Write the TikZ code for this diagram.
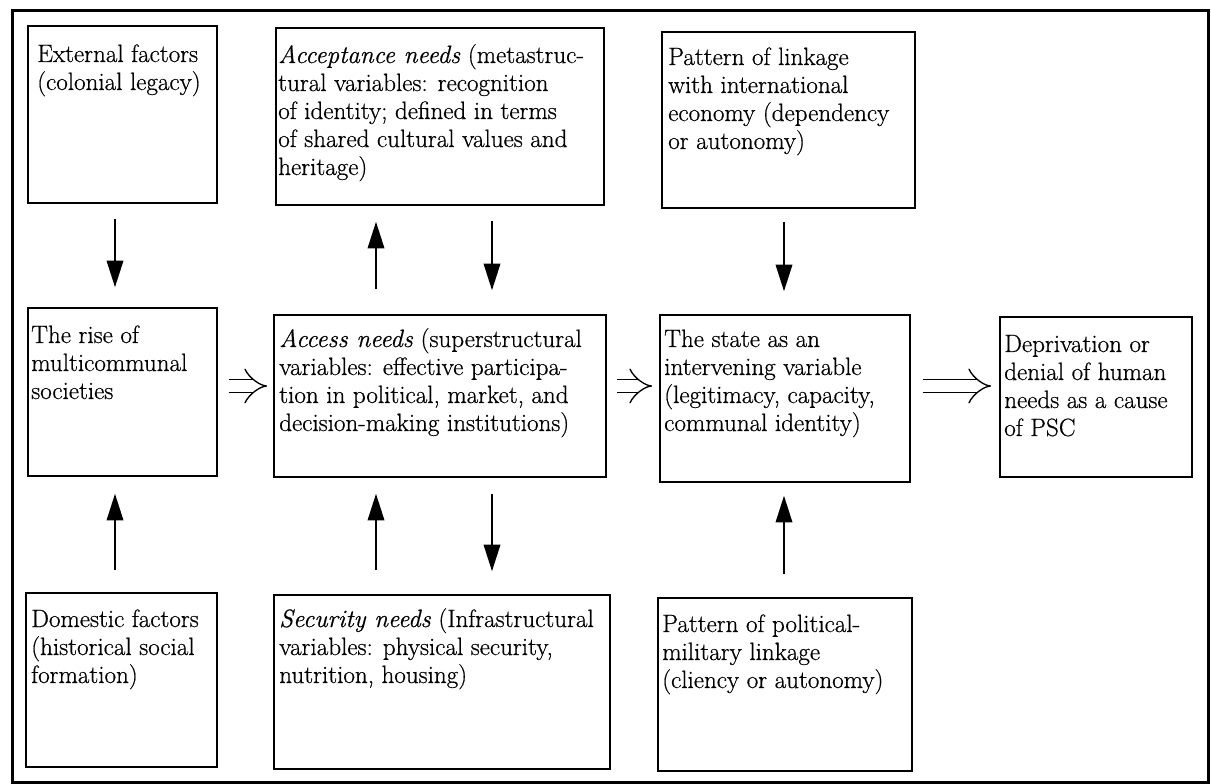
\documentclass[tikz,border=0pt]{standalone}
\usepackage{fontspec}
\setmainfont{Latin Modern Roman}[
  UprightFeatures={FakeBold=0.6},
  ItalicFeatures={FakeBold=0.6}]
\usetikzlibrary{arrows.meta,fit}

% multi-line label whose baseline is that of its first line
\newcommand\boxtext[1]{\begin{tabular}[t]{@{}l@{}}#1\end{tabular}}

\begin{document}
\begin{tikzpicture}[x=0.75pt,y=-0.75pt,
  panel/.style={draw, line width=1.2pt, inner sep=0pt},
  txt/.style={anchor=base west, inner sep=0pt, font=\fontsize{18.8}{21}\selectfont},
  varr/.style={line width=1.2pt, -{Triangle[length=20pt,width=12.5pt]}},
  dblarr/.style={double, double distance=8.5pt, line width=1pt,
                 -{Implies[length=10pt,width=21pt]}}
]
\useasboundingbox (0,0) rectangle (1211,784);

% outer frame
\draw[line width=2.25pt] (12,11) rectangle (1208,782);

% boxes
\node[panel, fit={(28,26) (217,203)}]   (ext)    {};
\node[panel, fit={(276,28) (604,205)}]  (accept) {};
\node[panel, fit={(662,32) (915,208)}]  (pat)    {};
\node[panel, fit={(28,308) (217,476)}]  (rise)   {};
\node[panel, fit={(274,315) (606,477)}] (access) {};
\node[panel, fit={(660,315) (910,482)}] (state)  {};
\node[panel, fit={(1000,317) (1192,477)}] (depr) {};
\node[panel, fit={(26,593) (217,767)}]  (dom)    {};
\node[panel, fit={(274,595) (610,769)}] (sec)    {};
\node[panel, fit={(658,598) (912,771)}] (pol)    {};

% box texts
\node[txt] (extT) at (37,62) {\boxtext{External factors\\(colonial legacy)}};
\node[txt] (acceptT) at (278,63) {\boxtext{\textit{Acceptance needs} (metastruc-\\tural variables: recognition\\of identity; defined in terms\\of shared cultural values and\\heritage)}};
\node[txt] (patT) at (668,65) {\boxtext{Pattern of linkage\\with international\\economy (dependency\\or autonomy)}};
\node[txt] (riseT) at (31,343) {\boxtext{The rise of\\multicommunal\\societies}};
\node[txt] (accessT) at (279,347) {\boxtext{\textit{Access needs} (superstructural\\variables: effective participa-\\tion in political, market, and\\decision-making institutions)}};
\node[txt] (stateT) at (664,347) {\boxtext{The state as an\\intervening variable\\(legitimacy, capacity,\\communal identity)}};
\node[txt] (deprT) at (1004,352) {\boxtext{Deprivation or\\denial of human\\needs as a cause\\of PSC}};
\node[txt] (domT) at (31,627) {\boxtext{Domestic factors\\(historical social\\formation)}};
\node[txt] (secT) at (279,627) {\boxtext{\textit{Security needs} (Infrastructural\\variables: physical security,\\nutrition, housing)}};
\node[txt] (polT) at (662,632) {\boxtext{Pattern of political-\\military linkage\\(cliency or autonomy)}};

% guide levels for the connectors
\coordinate (k1) at (115,0);
\coordinate (k2) at (376,0);
\coordinate (k3) at (492,0);
\coordinate (k4) at (784,0);
\coordinate (rowmid) at (0,386);

% vertical arrows
\draw[varr, shorten <=11.25pt, shorten >=15pt]   (ext.south -| k1)    -- (rise.north -| k1);
\draw[varr, shorten <=18.75pt, shorten >=12pt]   (access.north -| k2) -- (accept.south -| k2);
\draw[varr, shorten <=11.25pt, shorten >=18pt]   (accept.south -| k3) -- (access.north -| k3);
\draw[varr, shorten <=9.75pt, shorten >=17.25pt] (pat.south -| k4)    -- (state.north -| k4);
\draw[varr, shorten <=16.5pt, shorten >=12.75pt] (dom.north -| k1)    -- (rise.south -| k1);
\draw[varr, shorten <=18pt, shorten >=12pt]      (sec.north -| k2)    -- (access.south -| k2);
\draw[varr, shorten <=12pt, shorten >=17.25pt]   (access.south -| k3) -- (sec.north -| k3);
\draw[varr, shorten <=17.25pt, shorten >=9.75pt] (pol.north -| k4)    -- (state.south -| k4);

% horizontal double arrows
\draw[dblarr, shorten <=8.25pt, shorten >=4.5pt]  (rise.east |- rowmid)   -- (access.west |- rowmid);
\draw[dblarr, shorten <=7.5pt, shorten >=5.25pt]  (access.east |- rowmid) -- (state.west |- rowmid);
\draw[dblarr, shorten <=9pt, shorten >=6pt]       (state.east |- rowmid)  -- (depr.west |- rowmid);
\end{tikzpicture}
\end{document}
